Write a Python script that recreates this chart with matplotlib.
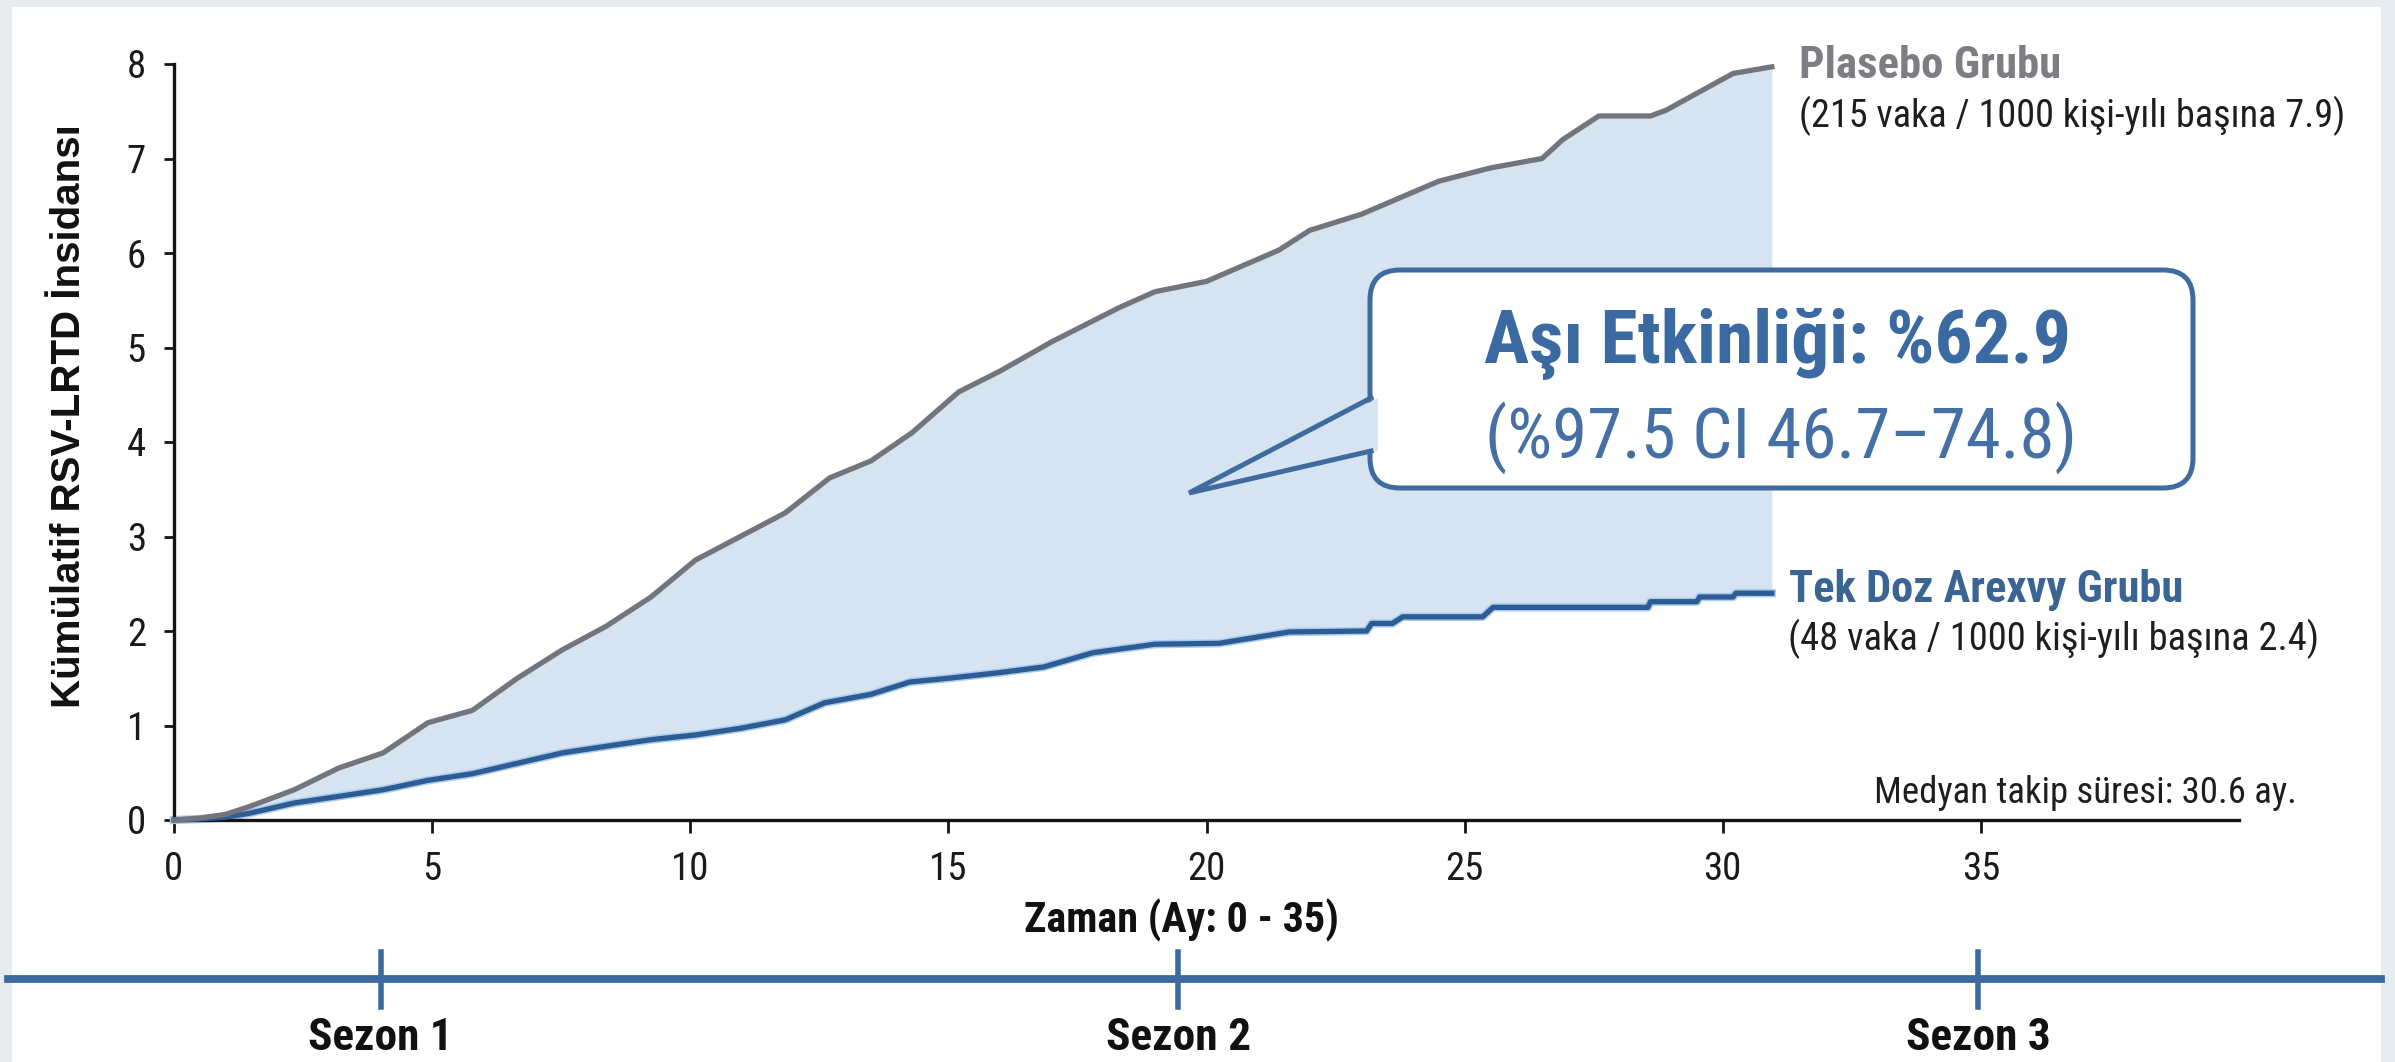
import numpy as np
import matplotlib
matplotlib.use("Agg")
import matplotlib.pyplot as plt
from matplotlib import font_manager
from matplotlib.patches import FancyBboxPatch, Polygon, Rectangle
from matplotlib.lines import Line2D
from matplotlib.transforms import IdentityTransform, blended_transform_factory

# ---------------- data ----------------
t_placebo = [0, 0.5, 1.0, 1.45, 2.33, 3.19, 4.05, 4.92, 5.78, 6.65, 7.52, 8.37,
             9.24, 10.1, 10.97, 11.84, 12.7, 13.5, 14.3, 15.2, 16.0, 17.0, 18.3,
             19.0, 20.0, 21.4, 22.0, 23.0, 24.5, 25.5, 26.5, 26.9, 27.6, 28.6,
             28.9, 29.6, 30.2, 30.95]
placebo = [0, 0.02, 0.06, 0.14, 0.32, 0.55, 0.71, 1.03, 1.16, 1.50, 1.80, 2.05,
           2.36, 2.75, 3.00, 3.25, 3.62, 3.80, 4.10, 4.53, 4.75, 5.06, 5.42,
           5.59, 5.70, 6.03, 6.24, 6.41, 6.76, 6.90, 7.00, 7.20, 7.45, 7.45,
           7.51, 7.72, 7.90, 7.97]

t_arexvy = [0, 0.5, 1.0, 1.45, 2.33, 3.19, 4.05, 4.92, 5.78, 6.65, 7.52, 8.37,
            9.24, 10.1, 10.97, 11.84, 12.6, 13.5, 14.25, 15.0, 16.0, 16.85, 17.8,
            19.0, 20.25, 21.6, 23.1, 23.2, 23.6, 23.8, 25.35, 25.55, 28.55, 28.6,
            29.5, 29.55, 30.2, 30.25, 30.95]
arexvy = [0, 0.01, 0.03, 0.07, 0.18, 0.25, 0.32, 0.42, 0.49, 0.60, 0.71, 0.78,
          0.85, 0.90, 0.97, 1.06, 1.24, 1.33, 1.46, 1.50, 1.56, 1.62, 1.77,
          1.86, 1.87, 1.99, 2.00, 2.08, 2.08, 2.15, 2.15, 2.25, 2.25, 2.31,
          2.31, 2.36, 2.36, 2.40, 2.40]

x_ticks = [0, 5, 10, 15, 20, 25, 30, 35]
y_ticks = [0, 1, 2, 3, 4, 5, 6, 7, 8]
season_labels = ["Sezon 1", "Sezon 2", "Sezon 3"]
season_months = [4.0, 19.45, 34.95]

placebo_title = "Plasebo Grubu"
placebo_note = "(215 vaka / 1000 kişi-yılı başına 7.9)"
arexvy_title = "Tek Doz Arexvy Grubu"
arexvy_note = "(48 vaka / 1000 kişi-yılı başına 2.4)"
followup_note = "Medyan takip süresi: 30.6 ay."
ve_line1 = "Aşı Etkinliği: %62.9"
ve_line2 = "(%97.5 CI 46.7–74.8)"
x_label = "Zaman (Ay: 0 - 35)"
y_label = "Kümülatif RSV-LRTD İnsidansı"

# ---------------- fonts ----------------
names = {f.name for f in font_manager.fontManager.ttflist}
COND = next((n for n in ["Liberation Sans Narrow", "Roboto Condensed", "Arial Narrow"]
             if n in names), "Liberation Sans")
BASE = "Liberation Sans" if "Liberation Sans" in names else "DejaVu Sans"
IS_NARROW = COND != "Liberation Sans"

W, H = 2395, 1062
fig = plt.figure(figsize=(W / 100, H / 100), dpi=100)
fig.patch.set_facecolor("white")

def fx(x):
    return x / W

def fy(y):
    return 1 - y / H

# soft frame strips
for (x0, y0, w, h) in [(0, 0, 12, H), (2381, 0, 14, H), (0, 0, W, 7)]:
    fig.add_artist(Rectangle((fx(x0), fy(y0 + h)), w / W, h / H,
                             transform=fig.transFigure, color="#e7ecf1", lw=0, zorder=0))

# ---------------- axes ----------------
ax = fig.add_axes([fx(174), fy(820), (2239 - 174) / W, (820 - 64) / H])
ax.set_facecolor("none")
ax.set_xlim(0, 40)
ax.set_ylim(0, 8)

t_all = np.union1d(t_placebo, t_arexvy)
p_i = np.interp(t_all, t_placebo, placebo)
a_i = np.interp(t_all, t_arexvy, arexvy)
ax.fill_between(t_all, a_i, p_i, color="#d6e3f0", lw=0, zorder=1)

ax.plot(t_arexvy, arexvy, color="#a9cdee", lw=6.0, zorder=2, clip_on=False)
ax.plot(t_arexvy, arexvy, color="#2d5b94", lw=3.8, zorder=3, clip_on=False)
ax.plot(t_placebo, placebo, color="#74747d", lw=3.8, zorder=4, clip_on=False)

for s in ["top", "right"]:
    ax.spines[s].set_visible(False)
for s in ["left", "bottom"]:
    ax.spines[s].set_linewidth(2.4)
    ax.spines[s].set_color("#141414")

ax.set_xticks(x_ticks)
ax.set_yticks(y_ticks)
tick_fs = 28 if IS_NARROW else 24
ax.tick_params(axis="x", length=9.4, width=2.0, pad=13, labelsize=tick_fs,
               color="#141414", labelcolor="#1a1a1a")
ax.tick_params(axis="y", length=7.2, width=2.0, pad=13, labelsize=tick_fs,
               color="#141414", labelcolor="#1a1a1a")
for lbl in ax.get_xticklabels() + ax.get_yticklabels():
    lbl.set_fontfamily(COND)

# ---------------- texts ----------------
renderer = fig.canvas.get_renderer()

def fit(t, target, dim="w"):
    for _ in range(3):
        bb = t.get_window_extent(renderer)
        cur = bb.width if dim == "w" else bb.height
        if cur > 0:
            t.set_fontsize(t.get_fontsize() * target / cur)
    return t

def ftext(x, y, s, target=None, dim="w", **kw):
    t = fig.text(fx(x), fy(y), s, **kw)
    if target:
        fit(t, target, dim)
    return t

ftext(69, 416, y_label, target=582, dim="h", rotation=90, ha="center", va="center",
      family=BASE, weight="bold", color="#111111", fontsize=28)
ftext(1181, 932, x_label, target=316, ha="center", va="baseline",
      family=COND, weight="bold", color="#111111", fontsize=30)

ftext(1799, 78, placebo_title, target=262, ha="left", va="baseline",
      family=COND, weight="bold", color="#7d7d84", fontsize=28)
ftext(1799, 127, placebo_note, target=546, ha="left", va="baseline",
      family=COND, color="#1e1e1e", fontsize=28)
ftext(1789, 602, arexvy_title, target=395, ha="left", va="baseline",
      family=COND, weight="bold", color="#3a6494", fontsize=28)
ftext(1788, 650, arexvy_note, target=531, ha="left", va="baseline",
      family=COND, color="#1e1e1e", fontsize=28)
ftext(2297, 803, followup_note, target=423, ha="right", va="baseline",
      family=COND, color="#1e1e1e", fontsize=24)

# ---------------- callout ----------------
ecol = "#3f6b9f"
box = FancyBboxPatch((1370, H - 488), 2193 - 1370, 488 - 270,
                     boxstyle="round,pad=0,rounding_size=30",
                     transform=IdentityTransform(), facecolor="white",
                     edgecolor=ecol, lw=3.6, zorder=5)
fig.add_artist(box)
tail_fill = Polygon([(1378, H - 398), (1189, H - 493), (1378, H - 451)], closed=True,
                    transform=IdentityTransform(), facecolor="#d6e3f0", edgecolor="none",
                    zorder=6)
fig.add_artist(tail_fill)
fig.add_artist(Line2D([1371, 1189, 1371], [H - 398, H - 493, H - 451],
                      transform=IdentityTransform(), color=ecol, lw=3.6,
                      solid_joinstyle="miter", zorder=7))

ftext(1778, 363, ve_line1, target=587, ha="center", va="baseline",
      family=COND, weight="bold", color="#3b69a2", fontsize=50, zorder=8)
ftext(1781, 458, ve_line2, target=593, ha="center", va="baseline",
      family=COND, color="#4470a6", fontsize=50, zorder=8)

# ---------------- season timeline ----------------
fig.add_artist(Line2D([fx(8), fx(2381)], [fy(979), fy(979)], transform=fig.transFigure,
                      color="#3d6a9c", lw=5.6, zorder=2))
btr = blended_transform_factory(ax.transData, fig.transFigure)
for m, lab in zip(season_months, season_labels):
    fig.add_artist(Line2D([m, m], [fy(952), fy(1007)], transform=btr,
                          color="#3d6a9c", lw=4.0, zorder=3))
    t = fig.text(m, fy(1050), lab, transform=btr, ha="center", va="baseline",
                 family=COND, weight="bold", color="#111111", fontsize=26)
    fit(t, 145)

fig.savefig("out.png", dpi=100)
